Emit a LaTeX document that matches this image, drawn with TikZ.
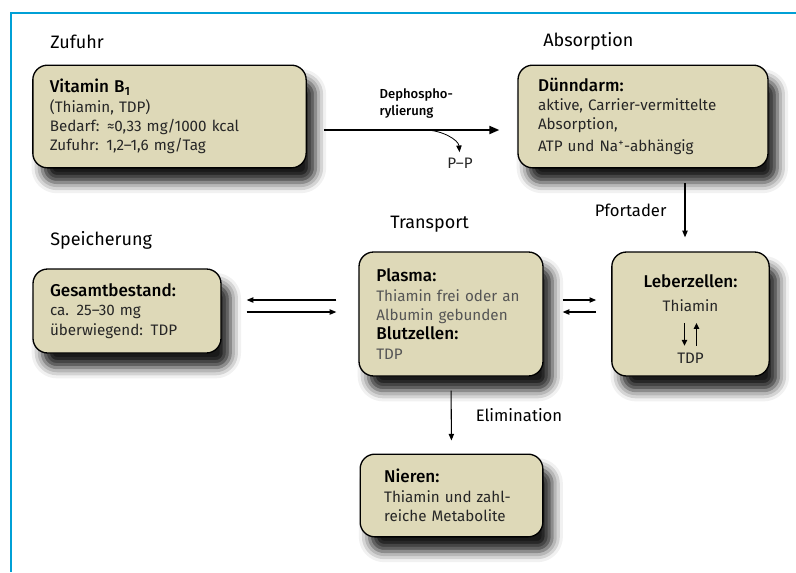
\documentclass[tikz,border=0pt]{standalone}
\usepackage{fontspec}
\setmainfont{Fira Sans}[BoldFont={Fira Sans Medium}]
\usetikzlibrary{arrows.meta,positioning,shadows.blur}
\definecolor{boxfill}{RGB}{222,217,184}
\definecolor{framecyan}{RGB}{0,160,214}
\definecolor{bodygray}{RGB}{85,85,85}
\newcommand\boxtitle[1]{{\color{black}\fontsize{12.8}{15}\selectfont\bfseries #1}}
\tikzset{
  box/.style={draw, rounded corners=11pt, fill=boxfill, line width=1pt, align=left,
    inner xsep=12.75pt, text=black!85, font=\fontsize{11.4}{14.5}\selectfont,
    blur shadow={shadow xshift=7pt, shadow yshift=-11pt, shadow blur radius=8pt, shadow opacity=90}},
  head/.style={anchor=west, inner sep=0pt, font=\fontsize{13.5}{15}\selectfont},
  lab/.style={inner sep=0pt, font=\fontsize{12.5}{14}\selectfont},
  txt/.style={inner sep=0pt, font=\fontsize{11.4}{13}\selectfont, text=black!85},
  frame/.style={framecyan, line width=2.2pt},
  arr/.style={-{Triangle[length=5pt, width=4pt]}, line width=0.8pt},
  bigarr/.style={-{Triangle[length=7.5pt, width=6pt]}, line width=1.5pt},
  smarr/.style={-{Triangle[length=4.5pt, width=4pt]}, line width=1.2pt},
}
\begin{document}
\begin{tikzpicture}[x=0.75pt, y=-0.75pt]
\useasboundingbox (0,0) rectangle (796,572);
\draw[frame] (796,13) -| (11,572);

% headings
\node[head] (hzuf) at (50,42) {Zufuhr};
\node[head] (habs) at (543,41) {Absorption};
\node[head] (hspe) at (50,240) {Speicherung};
\node[head] (htra) at (390,224) {Transport};

% boxes
\node[box, text width=179.5pt, minimum height=77pt] (vit) at (169.5,116.5)
  {\boxtitle{Vitamin B\textsubscript{1}}\\ (Thiamin, TDP)\\ Bedarf: ≈0,33~mg/1000~kcal\\ Zufuhr: 1,2–1,6~mg/Tag};
\node[box, text width=157.5pt, inner xsep=15pt, minimum height=77pt] (dd) at (643,116.5)
  {\boxtitle{Dünndarm:}\\ aktive, Carrier-vermittelte\\ Absorption,\\[2pt] ATP und Na\textsuperscript{+}-abhängig};
\node[box, text width=115.5pt, minimum height=63pt] (gesamt) at (127,311)
  {\boxtitle{Gesamtbestand:}\\ ca. 25–30~mg\\ überwiegend: TDP};
\node[box, text width=112pt, inner xsep=13pt, minimum height=93pt, text=bodygray] (plasma) at (451,314)
  {\boxtitle{Plasma:}\\ Thiamin frei oder an\\ Albumin gebunden\\ \boxtitle{Blutzellen:}\\ TDP};
\node[box, minimum width=118pt, minimum height=93pt] (leber) at (690.5,314) {};
\node[box, text width=101pt, inner xsep=18pt, minimum height=62pt] (nieren) at (451.5,495.5)
  {\boxtitle{Nieren:}\\ Thiamin und zahl-\\ reiche Metabolite};

% liver content
\node[inner sep=0pt] (lebtitle) at (690.5,281) {\boxtitle{Leberzellen:}};
\node[txt] (thia) at (690.5,306) {Thiamin};
\node[txt] (tdp) at (690.5,358) {TDP};
\draw[smarr, shorten <=8pt, shorten >=5pt] ([xshift=-4.5pt]thia.south) -- ([xshift=-4.5pt]tdp.north);
\draw[smarr, shorten <=5pt, shorten >=8pt] ([xshift=4.5pt]tdp.north) -- ([xshift=4.5pt]thia.south);

% dephosphorylation
\node[txt] (pp) at (460,163) {P–P};
\draw[bigarr, shorten <=12.75pt, shorten >=13.5pt] (vit.east |- 0,130) --
  node[pos=0.52, above=8pt, inner sep=0pt, align=left, font=\fontsize{9.8}{12.5}\selectfont\bfseries] (dlbl) {Dephospho-\\rylierung}
  coordinate[pos=0.56] (brch) (dd.west |- 0,130);
\draw[arr, line width=0.6pt, shorten >=4pt] (brch) to[out=0, in=95] (pp.north);

% transport
\coordinate (pf) at (685,0);
\draw[arr, shorten <=11pt, shorten >=10.5pt] (pf |- dd.south) --
  node[lab, left=13.5pt] (pflbl) {Pfortader} (pf |- leber.north);
\draw[arr, shorten <=16.5pt, shorten >=18.75pt] (plasma.west |- 0,300) -- (gesamt.east |- 0,300);
\draw[arr, shorten <=18.75pt, shorten >=16.5pt] (gesamt.east |- 0,312) -- (plasma.west |- 0,312);
\draw[arr, shorten <=14.25pt, shorten >=11.25pt] (plasma.east |- 0,300) -- (leber.west |- 0,300);
\draw[arr, shorten <=11.25pt, shorten >=14.25pt] (leber.west |- 0,312) -- (plasma.east |- 0,312);
\draw[arr, shorten <=10.5pt, shorten >=9.75pt] (plasma.south) --
  node[lab, right=18pt] (elbl) {Elimination} (nieren.north);
\end{tikzpicture}
\end{document}
